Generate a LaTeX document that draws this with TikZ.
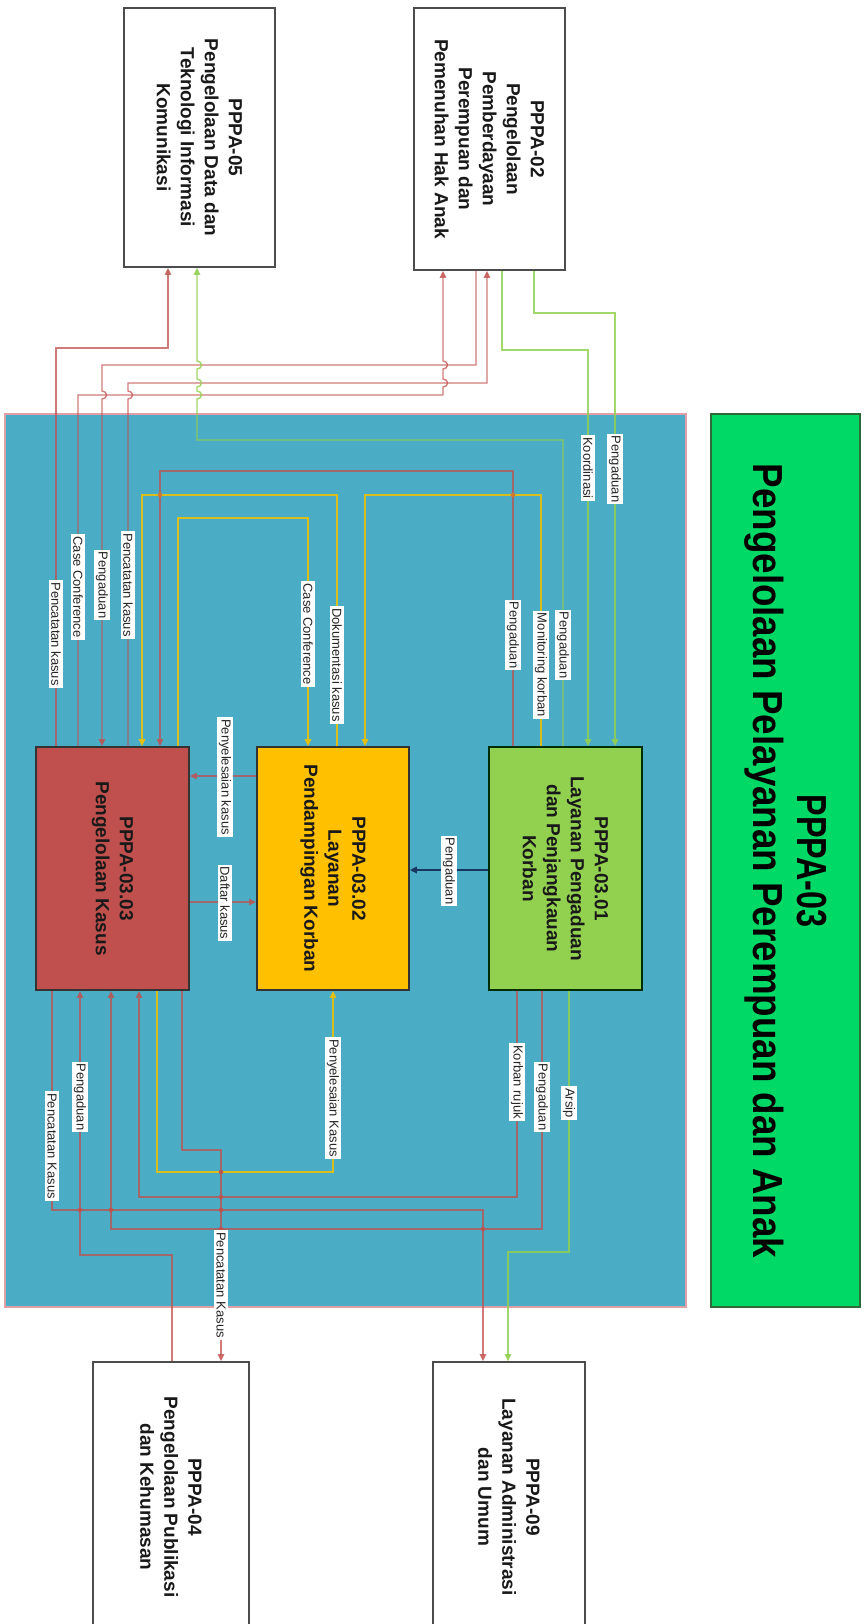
\documentclass[tikz,border=0pt]{standalone}
\usepackage{graphicx}
\usepackage{fontspec}
\setmainfont{Liberation Sans}
\usetikzlibrary{arrows.meta}
\definecolor{frameblue}{HTML}{4BACC6}
\definecolor{frameedge}{HTML}{E0A0A8}
\definecolor{titlegreen}{HTML}{00D966}
\definecolor{titleedge}{HTML}{2D6A3A}
\definecolor{boxred}{HTML}{C0504D}
\definecolor{boxyellow}{HTML}{FFC000}
\definecolor{boxgreen}{HTML}{92D050}
\definecolor{lnred}{HTML}{C0504D}
\definecolor{lngreen}{HTML}{92D050}
\definecolor{lnyellow}{HTML}{F2C200}
\definecolor{lndark}{HTML}{17375E}
\definecolor{dotorange}{HTML}{D2782E}
\newcommand\jmpup[2]{-- (#1,#2+4) .. controls (#1+6,#2+4) and (#1+6,#2-4) .. (#1,#2-4)}
\newcommand\jmpdn[2]{-- (#1,#2-4) .. controls (#1+6,#2-4) and (#1+6,#2+4) .. (#1,#2+4)}
\begin{document}
\begin{tikzpicture}[x=1pt,y=-1pt,
  outbox/.style={draw=black!70, line width=1.6pt, fill=white, inner sep=0pt},
  inbox/.style={draw=black!80, line width=1.8pt, inner sep=0pt, minimum width=153pt, minimum height=243pt},
  bt/.style={rotate=-90, align=center, inner sep=0pt, font=\fontsize{19}{24}\selectfont\bfseries, text=black!90},
  lbl/.style={rotate=-90, fill=white, inner sep=2pt, font=\fontsize{13}{15}\selectfont, text=black!85},
  redln/.style={draw=lnred, line width=1.4pt, opacity=0.75},
  grnln/.style={draw=lngreen, line width=1.4pt, opacity=0.85},
  yelln/.style={draw=lnyellow, line width=1.4pt, opacity=0.85},
  darkln/.style={draw=lndark, line width=1.6pt},
  arw/.style={-{Triangle[length=7pt,width=6.5pt]}},
]
\useasboundingbox (0,0) rectangle (865,1624);
\clip (0,0) rectangle (865,1624);
\fill[white] (0,0) rectangle (865,1624);

% frame and title
\node[draw=frameedge, line width=1.5pt, fill=frameblue, inner sep=0pt, minimum width=681pt, minimum height=893pt] (frame) at (345.5,860.5) {};
\node[draw=titleedge, line width=1.2pt, fill=titlegreen, inner sep=0pt, minimum width=149pt, minimum height=893pt] (title) at (785.5,860.5) {};
\node[rotate=-90, align=center, inner sep=0pt, text=black, font=\fontsize{42}{44}\selectfont\bfseries] (ttl) at (786,861)
  {\scalebox{0.77}[1]{PPPA-03}\\\scalebox{0.875}[1]{Pengelolaan Pelayanan Perempuan dan Anak}};

% external boxes
\node[outbox, minimum width=151pt, minimum height=259pt] (p05) at (199.5,137.5) {};
\node[bt] (p05t) at (p05.center) {PPPA-05\\Pengelolaan Data dan\\Teknologi Informasi\\Komunikasi};
\node[outbox, minimum width=151pt, minimum height=262pt] (p02) at (489.5,139) {};
\node[bt] (p02t) at (p02.center) {PPPA-02\\Pengelolaan\\Pemberdayaan\\Perempuan dan\\Pemenuhan Hak Anak};
\node[outbox, minimum width=156pt, minimum height=270pt] (p04) at (171,1497) {};
\node[bt] (p04t) at (p04.center) {PPPA-04\\Pengelolaan Publikasi\\dan Kehumasan};
\node[outbox, minimum width=152pt, minimum height=270pt] (p09) at (509,1497) {};
\node[bt] (p09t) at (p09.center) {PPPA-09\\Layanan Administrasi\\dan Umum};

% inner boxes
\node[inbox, fill=boxred] (r3) at (112.5,868.5) {};
\node[bt] (r3t) at (r3.center) {PPPA-03.03\\Pengelolaan Kasus};
\node[inbox, fill=boxyellow, minimum width=152pt] (y2) at (333,868.5) {};
\node[bt] (y2t) at (y2.center) {PPPA-03.02\\Layanan\\Pendampingan Korban};
\node[inbox, fill=boxgreen, draw=black!70!green!60!black] (g1) at (565.5,868.5) {};
\node[bt] (g1t) at (g1.center) {PPPA-03.01\\Layanan Pengaduan\\dan Penjangkauan\\Korban};

% connectors, upper part
\draw[redln, arw] (r3.north -| 56,0) |- (168,348) -- (p05.south -| 168,0);
\draw[redln, arw] (r3.north -| 78,0) |- (443,395) \jmpup{443}{383} \jmpup{443}{365} -- (p02.south -| 443,0);
\draw[redln, arw] (p02.south -| 476,0) |- (102,365) \jmpdn{102}{395} -- (r3.north -| 102,0);
\draw[redln, arw] (r3.north -| 128,0) \jmpup{128}{395} |- (487,383) -- (p02.south -| 487,0);
\draw[grnln, arw] (g1.north -| 563,0) |- (197,440) \jmpup{197}{395} \jmpup{197}{383} \jmpup{197}{365} -- (p05.south -| 197,0);
\draw[grnln, arw] (p02.south -| 502,0) |- (588,350) -- (g1.north -| 588,0);
\draw[grnln, arw] (p02.south -| 534,0) |- (615,313) -- (g1.north -| 615,0);
\draw[redln, arw] (g1.north -| 513,0) |- (160,471) -- (r3.north -| 160,0);
\draw[yelln, arw] (g1.north -| 541,0) |- (365,495) -- (y2.north -| 365,0);
\draw[yelln, arw] (y2.north -| 337,0) |- (142,495) -- (r3.north -| 142,0);
\draw[yelln, arw] (r3.north -| 178,0) |- (308,518) -- (y2.north -| 308,0);

% connectors between boxes
\draw[redln, arw] (y2.west |- 0,776) -- (r3.east |- 0,776);
\draw[redln, arw] (r3.east |- 0,902) -- (y2.west |- 0,902);
\draw[darkln, arw] (g1.west |- 0,870) -- (y2.east |- 0,870);

% connectors, lower part
\draw[yelln, arw] (r3.south -| 157,0) |- (333,1172) -- (y2.south -| 333,0);
\draw[redln, arw] (r3.south -| 182,0) |- (221,1150) -- (p04.north -| 221,0);
\draw[redln, arw] (p04.north -| 172,0) |- (80,1255) -- (r3.south -| 80,0);
\draw[redln, arw] (g1.south -| 542,0) |- (111,1229) -- (r3.south -| 111,0);
\draw[redln, arw] (g1.south -| 517,0) |- (139,1197) -- (r3.south -| 139,0);
\draw[redln, arw] (r3.south -| 52,0) |- (483,1210) -- (p09.north -| 483,0);
\draw[grnln, arw] (g1.south -| 569,0) |- (508,1252) -- (p09.north -| 508,0);

% crossing dots
\fill[dotorange] (160,495) circle (2.3pt) (513,495) circle (2.3pt);
\fill[lnred] (221,1172) circle (2.2pt) (221,1197) circle (2.2pt) (221,1210) circle (2.2pt)
  (221,1229) circle (2.2pt) (80,1210) circle (2.2pt) (111,1210) circle (2.2pt) (483,1229) circle (2.2pt);

% labels
\node[lbl] (l1) at (56,634) {Pencatatan kasus};
\node[lbl] (l2) at (78,587) {Case Conference};
\node[lbl] (l3) at (102,585) {Pengaduan};
\node[lbl] (l4) at (128,585) {Pencatatan kasus};
\node[lbl] (l5) at (563,645) {Pengaduan};
\node[lbl] (l6) at (588,468) {Koordinasi};
\node[lbl] (l7) at (615,469) {Pengaduan};
\node[lbl] (l8) at (513,635) {Pengaduan};
\node[lbl] (l9) at (541,665) {Monitoring korban};
\node[lbl] (l10) at (337,665) {Dokumentasi kasus};
\node[lbl] (l11) at (308,634) {Case Conference};
\node[lbl] (l12) at (225,777) {Penyelesaian kasus};
\node[lbl] (l13) at (225,903) {Daftar kasus};
\node[lbl] (l14) at (449,871) {Pengaduan};
\node[lbl] (l15) at (333,1098) {Penyelesaian Kasus};
\node[lbl] (l16) at (221,1285) {Pencatatan Kasus};
\node[lbl] (l17) at (80,1097) {Pengaduan};
\node[lbl] (l18) at (542,1097) {Pengaduan};
\node[lbl] (l19) at (517,1082) {Korban rujuk};
\node[lbl] (l20) at (52,1146) {Pencatatan Kasus};
\node[lbl] (l21) at (569,1103) {Arsip};
\end{tikzpicture}
\end{document}
